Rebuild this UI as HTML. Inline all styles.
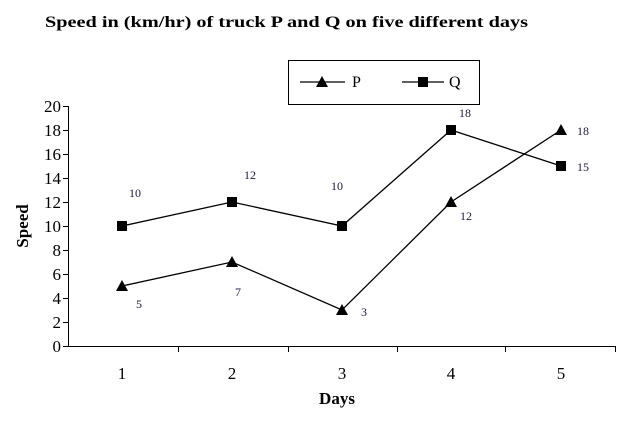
<!DOCTYPE html>
<html><head><meta charset="utf-8"><style>
html,body{margin:0;padding:0;background:#fff;}
svg{display:block;font-family:"Times New Roman","Liberation Serif",Times,serif;}
</style></head><body>
<svg width="640" height="429" viewBox="0 0 640 429" xmlns="http://www.w3.org/2000/svg">
<text x="45" y="27" font-size="16" font-weight="bold" textLength="483" lengthAdjust="spacingAndGlyphs">Speed in (km/hr) of truck P and Q on five different days</text>
<rect x="288.5" y="60.5" width="191" height="44" fill="none" stroke="#000" stroke-width="1"/>
<line x1="300" y1="82" x2="345" y2="82" stroke="#000" stroke-width="1.3"/>
<polygon points="322,76 316,87 328,87" fill="#000"/>
<text x="352" y="87" font-size="16">P</text>
<line x1="402" y1="82" x2="444" y2="82" stroke="#000" stroke-width="1.3"/>
<rect x="418" y="77" width="10" height="10" fill="#000"/>
<text x="449" y="87" font-size="16">Q</text>
<g stroke="#000" stroke-width="1" fill="none">
<line x1="68.5" y1="106" x2="68.5" y2="347"/>
<line x1="68" y1="346.5" x2="616" y2="346.5"/>
</g>
<g stroke="#000" stroke-width="1">
<line x1="63" y1="106.5" x2="68" y2="106.5"/><line x1="63" y1="130.5" x2="68" y2="130.5"/>
<line x1="63" y1="154.5" x2="68" y2="154.5"/><line x1="63" y1="178.5" x2="68" y2="178.5"/>
<line x1="63" y1="202.5" x2="68" y2="202.5"/><line x1="63" y1="226.5" x2="68" y2="226.5"/>
<line x1="63" y1="250.5" x2="68" y2="250.5"/><line x1="63" y1="274.5" x2="68" y2="274.5"/>
<line x1="63" y1="298.5" x2="68" y2="298.5"/><line x1="63" y1="322.5" x2="68" y2="322.5"/>
<line x1="63" y1="346.5" x2="68" y2="346.5"/>
<line x1="178.5" y1="346" x2="178.5" y2="352"/><line x1="288.5" y1="346" x2="288.5" y2="352"/>
<line x1="397.5" y1="346" x2="397.5" y2="352"/><line x1="505.5" y1="346" x2="505.5" y2="352"/>
<line x1="615.5" y1="346" x2="615.5" y2="352"/>
</g>
<g font-size="17" text-anchor="end">
<text x="61" y="112">20</text><text x="61" y="136">18</text><text x="61" y="160">16</text>
<text x="61" y="184">14</text><text x="61" y="208">12</text><text x="61" y="232">10</text>
<text x="61" y="256">8</text><text x="61" y="280">6</text><text x="61" y="304">4</text>
<text x="61" y="328">2</text><text x="61" y="352">0</text>
</g>
<g font-size="17" text-anchor="middle">
<text x="122" y="379">1</text><text x="232" y="379">2</text><text x="342" y="379">3</text>
<text x="451" y="379">4</text><text x="561" y="379">5</text>
</g>
<text x="337" y="404" font-size="17" font-weight="bold" text-anchor="middle">Days</text>
<text transform="translate(28,226) rotate(-90)" font-size="17" font-weight="bold" text-anchor="middle">Speed</text>
<polyline points="122,226 232,202 342,226 451,130 561,166" fill="none" stroke="#000" stroke-width="1.3"/>
<polyline points="122,286 232,262 342,310 451,202 561,130" fill="none" stroke="#000" stroke-width="1.3"/>
<g fill="#000">
<rect x="117" y="221" width="10" height="10"/><rect x="227" y="197" width="10" height="10"/>
<rect x="337" y="221" width="10" height="10"/><rect x="446" y="125" width="10" height="10"/>
<rect x="556" y="161" width="10" height="10"/>
<polygon points="122,280 116,291 128,291"/><polygon points="232,256 226,267 238,267"/>
<polygon points="342,304 336,315 348,315"/><polygon points="451,196 445,207 457,207"/>
<polygon points="561,124 555,135 567,135"/>
</g>
<g font-size="12" fill="#1a1a40">
<text x="129" y="197">10</text><text x="244" y="179">12</text><text x="331" y="190">10</text>
<text x="459" y="117">18</text><text x="577" y="171">15</text>
<text x="136" y="308">5</text><text x="235" y="296">7</text><text x="361" y="316">3</text>
<text x="460" y="220">12</text><text x="577" y="135">18</text>
</g>
</svg>
</body></html>
